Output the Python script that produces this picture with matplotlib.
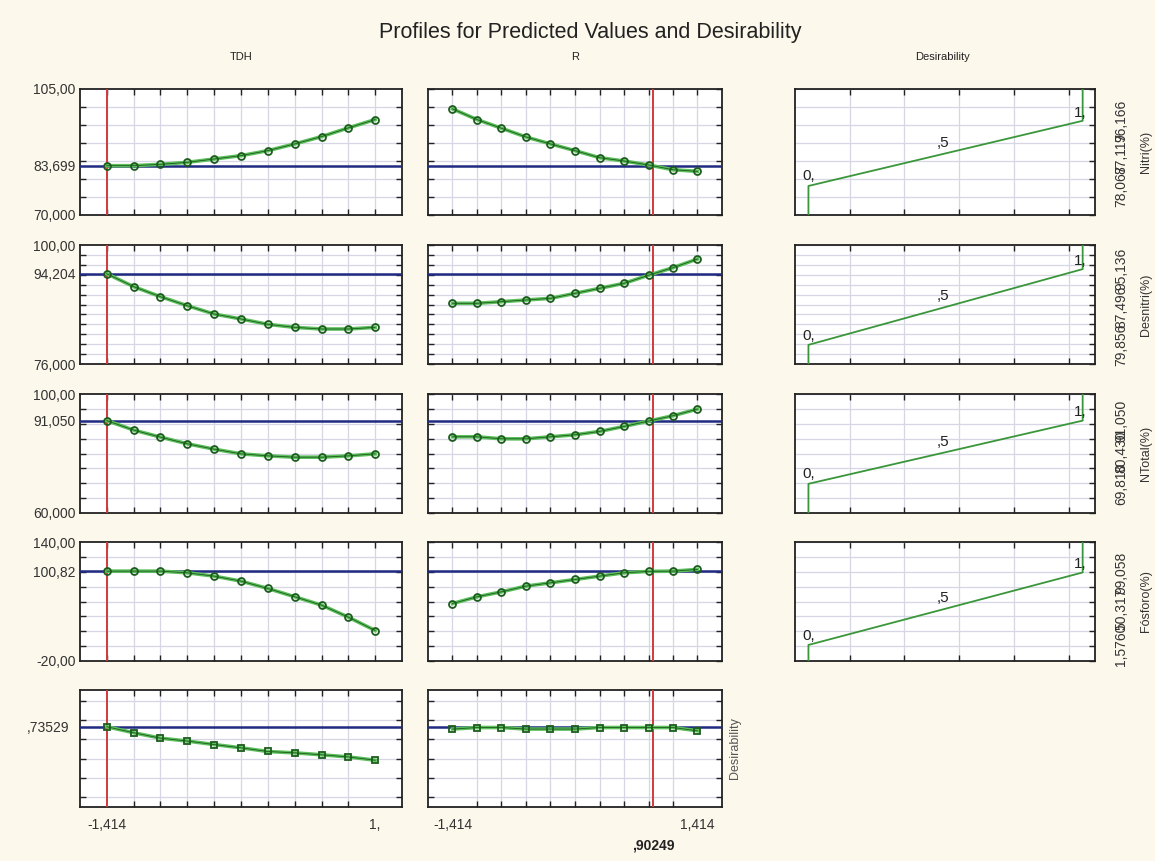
"""Profiles for predicted values and desirability (Statistica style)."""
import numpy as np
import matplotlib.pyplot as plt
from matplotlib.transforms import blended_transform_factory

plt.rcParams['font.family'] = ['Liberation Sans', 'DejaVu Sans']

# factor levels (coded)
levels = [-1.414, -1.131, -0.849, -0.566, -0.283, 0.0, 0.283, 0.566, 0.849, 1.131, 1.414]
cur_tdh = -1.414
cur_r = 0.90249

responses = ["Nitri(%)", "Desnitri(%)", "NTotal(%)", "Fósforo(%)"]
ylims = [(70, 105), (76, 100), (60, 100), (-20, 140)]
ygrid_step = [5, 2, 5, 20]
ylabels_txt = [["70,000", "83,699", "105,00"],
               ["76,000", "94,204", "100,00"],
               ["60,000", "91,050", "100,00"],
               ["-20,00", "100,82", "140,00"]]
current = [83.699, 94.204, 91.05, 100.82]

nitri_tdh = [83.70, 83.70, 84.07, 84.63, 85.56, 86.49, 87.88, 89.74, 91.78, 94.19, 96.52]
nitri_r = [99.48, 96.51, 94.10, 91.68, 89.74, 87.88, 85.93, 85.00, 83.90, 82.58, 82.12]
desnitri_tdh = [94.20, 91.60, 89.58, 87.76, 86.08, 85.08, 84.00, 83.39, 83.06, 83.06, 83.39]
desnitri_r = [88.24, 88.24, 88.57, 88.91, 89.24, 90.25, 91.26, 92.27, 93.90, 95.43, 97.18]
ntotal_tdh = [91.05, 87.87, 85.51, 83.26, 81.46, 79.89, 79.21, 78.76, 78.76, 79.21, 79.89]
ntotal_r = [85.62, 85.62, 84.94, 84.94, 85.62, 86.29, 87.42, 89.10, 90.90, 92.70, 94.94]
fosforo_tdh = [100.82, 100.82, 100.82, 98.58, 94.1, 87.4, 77.5, 66.4, 55.1, 39.0, 21.0]
fosforo_r = [57.3, 66.3, 73.0, 80.7, 85.1, 89.6, 94.1, 98.6, 100.5, 100.82, 103.1]
desir_tdh = [0.735, 0.704, 0.676, 0.661, 0.643, 0.626, 0.607, 0.600, 0.590, 0.579, 0.562]
desir_r = [0.723, 0.731, 0.731, 0.723, 0.723, 0.723, 0.731, 0.731, 0.731, 0.731, 0.714]
desir_cur = 0.73529

tdh_series = [nitri_tdh, desnitri_tdh, ntotal_tdh, fosforo_tdh]
r_series = [nitri_r, desnitri_r, ntotal_r, fosforo_r]

# desirability functions: low / mid / high response values
d_low = [78.067, 79.856, 69.81, 1.576]
d_mid = [87.117, 87.496, 80.43, 50.317]
d_high = [96.166, 95.136, 91.05, 99.058]
d_txt = [["78,067", "87,117", "96,166"],
         ["79,856", "87,496", "95,136"],
         ["69,810", "80,430", "91,050"],
         ["1,5760", "50,317", "99,058"]]

BG = "#fcf8ec"
GREEN = "#5cbf5c"
DKGREEN = "#1c5c1c"
BLUE = "#1f2a80"
RED = "#d03a3a"
GRID = "#d6d6e4"

W, H = 1155, 861
fig = plt.figure(figsize=(W / 100, H / 100), dpi=100, facecolor=BG)


def px_axes(x0, y0, x1, y1):
    return fig.add_axes([x0 / W, 1 - y1 / H, (x1 - x0) / W, (y1 - y0) / H])


def style(ax, xgrid, ygrid):
    ax.set_facecolor("white")
    for s in ax.spines.values():
        s.set_linewidth(1.3)
        s.set_color("#222222")
    ax.set_xticks(xgrid, minor=True)
    ax.set_yticks(ygrid, minor=True)
    ax.grid(True, which="minor", color=GRID, lw=0.9)
    ax.grid(False, which="major")
    ax.tick_params(which="minor", direction="in", length=4, width=1,
                   top=True, bottom=True, left=True, right=True, color="#222222")
    ax.tick_params(which="major", length=0, labelsize=10, pad=3, colors="#333333")
    ax.set_axisbelow(True)


rows = [(89, 215), (245, 364), (394, 513), (542, 661), (690, 807)]
cols = [(80, 402), (428, 722)]
dx = 0.2828
xl = (-1.414 - dx, 1.414 + dx)

for i in range(5):
    y0, y1 = rows[i]
    for j in range(2):
        ax = px_axes(cols[j][0], y0, cols[j][1], y1)
        ax.set_xlim(*xl)
        if i < 4:
            lo, hi = ylims[i]
            ax.set_ylim(lo, hi)
            ygrid = np.arange(lo, hi + 0.001, ygrid_step[i])
            vals = tdh_series[i] if j == 0 else r_series[i]
            cur = current[i]
            marker = "o"
        else:
            ax.set_ylim(0.32, 0.925)
            ygrid = [0.37, 0.47, 0.57, 0.67, 0.77, 0.87]
            vals = desir_tdh if j == 0 else desir_r
            cur = desir_cur
            marker = "s"
        style(ax, levels, ygrid)
        ax.axhline(cur, color=BLUE, lw=1.8, zorder=3)
        ax.axvline(cur_tdh if j == 0 else cur_r, color=RED, lw=1.4, zorder=3)
        ax.plot(levels, vals, color=GREEN, lw=2.6, zorder=4)
        ax.plot(levels, vals, color=DKGREEN, lw=0.6, marker=marker, ms=5,
                mfc="none", mec=DKGREEN, mew=1.3, zorder=5)
        # y labels on the left column only
        if j == 0:
            if i < 4:
                ax.set_yticks([lo, cur, hi])
                ax.set_yticklabels(ylabels_txt[i])
            else:
                ax.set_yticks([cur])
                ax.set_yticklabels([",73529"])
        else:
            ax.set_yticks([])
        if i == 4:
            if j == 0:
                ax.set_xticks([levels[0], levels[-1]])
                ax.set_xticklabels(["-1,414", "1,"])
            else:
                ax.set_xticks([levels[0], levels[-1]])
                ax.set_xticklabels(["-1,414", "1,414"])
                tr = blended_transform_factory(ax.transData, ax.transAxes)
                ax.text(cur_r, -0.33, ",90249", transform=tr, ha="center",
                        va="center", fontsize=10, fontweight="bold", color="#222222")
                ax.yaxis.set_label_position("right")
                ax.set_ylabel("Desirability", fontsize=9, color="#555555", labelpad=5)
            ax.tick_params(which="major", pad=8)
        else:
            ax.set_xticks([])

# desirability function column
for i in range(4):
    y0, y1 = rows[i]
    ax = px_axes(795, y0, 1095, y1)
    lo, hi = ylims[i]
    ax.set_xlim(-0.049, 1.045)
    ax.set_ylim(lo, hi)
    style(ax, [0.15, 0.35, 0.55, 0.75, 0.95], np.arange(lo, hi + 0.001, ygrid_step[i]))
    ax.plot([0, 0, 1, 1], [lo, d_low[i], d_high[i], hi], color="#3a963a", lw=1.3, zorder=4)
    ax.text(0.0, d_low[i] + 0.02 * (hi - lo), "0,", ha="center", va="bottom",
            fontsize=11, color="#222222", zorder=6)
    ax.text(0.49, d_mid[i] + 0.03 * (hi - lo), ",5", ha="center", va="bottom",
            fontsize=11, color="#222222", zorder=6)
    ax.text(0.99, d_high[i] + 0.01 * (hi - lo), "1,", ha="center", va="bottom",
            fontsize=11, color="#222222", zorder=6)
    ax.set_xticks([])
    ax.yaxis.tick_right()
    ax.set_yticks([d_low[i], d_mid[i], d_high[i]])
    ax.set_yticklabels(d_txt[i], rotation=90, va="center")
    ax.tick_params(which="major", pad=14)
    ax.yaxis.set_label_position("right")
    ax.set_ylabel(responses[i], fontsize=9, color="#333333", labelpad=8)

fig.text(0.511, 0.962, "Profiles for Predicted Values and Desirability",
         ha="center", va="center", fontsize=15.5, color="#222222")
fig.text(241 / W, 1 - 57 / H, "TDH", ha="center", va="center", fontsize=8, color="#222222")
fig.text(575 / W, 1 - 57 / H, "R", ha="center", va="center", fontsize=8, color="#222222")
fig.text(942 / W, 1 - 57 / H, "Desirability", ha="center", va="center", fontsize=8,
         color="#222222")

fig.savefig("out.png", dpi=100, facecolor=BG)
